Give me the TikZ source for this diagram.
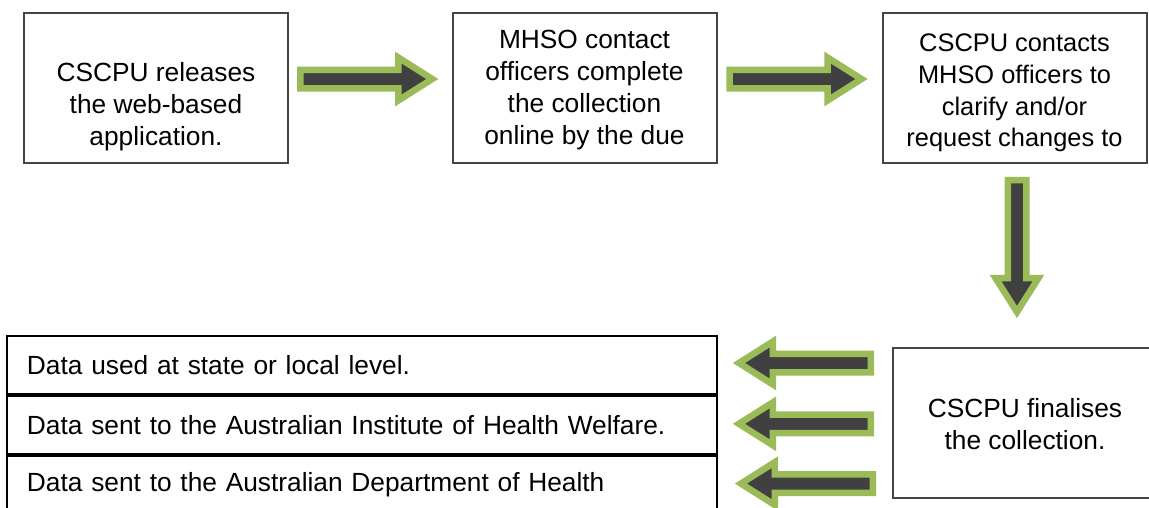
\documentclass[tikz,border=0pt]{standalone}
\usepackage{fontspec}
\setmainfont{Liberation Sans}
\usetikzlibrary{calc}
\definecolor{arrowgreen}{HTML}{9BBB59}
\definecolor{arrowdark}{HTML}{404040}
\definecolor{boxgray}{HTML}{454545}
\tikzset{
    blockarr/.pic={
        \draw[draw=arrowgreen,fill=arrowdark,line width=6.5pt]
            (-66,-9.25) -- (32,-9.25) -- (32,-21.5) -- (66,0)
            -- (32,21.5) -- (32,9.25) -- (-66,9.25) -- cycle;
    }
}
\begin{document}
\begin{tikzpicture}[x=1pt,y=-1pt,
        box/.style={draw=boxgray,line width=2pt,minimum width=264pt,
            minimum height=150pt,inner sep=0pt},
        boxtext/.style={align=center,inner sep=0pt,
            font=\fontsize{26.3}{31.7}\selectfont},
        row/.style={draw=black,line width=1.8pt,minimum height=58pt,
            text width=670pt,inner xsep=20pt,align=left,
            font=\fontsize{26.3}{31.7}\selectfont}]
    \useasboundingbox (0,0) rectangle (1149,507);

    % top row
    \node[box] (b1) at (156,88) {};
    \node[boxtext] (t1) at ([yshift=-18.5pt]b1.center) {CSCPU releases\\the web-based\\application.};
    \node[box] (b2) at (584.5,88) {};
    \node[boxtext] (t2) at ([yshift=-2pt]b2.center) {MHSO contact\\officers complete\\the collection\\online by the due};
    \node[box] (b3) at (1014.5,88) {};
    \node[boxtext,font=\fontsize{25.4}{31.7}\selectfont] (t3) at ([yshift=-5pt]b3.center)
        {CSCPU contacts\\MHSO officers to\\clarify and/or\\request changes to};

    % finalising box
    \node[box] (b4) at (1025,423) {};
    \node[boxtext] (t4) at ([yshift=-1pt]b4.center) {CSCPU finalises\\the collection.};

    % outcomes
    \node[row] (r1) at (362,365) {Data used at state or local level.};
    \node[row,anchor=north] (r2) at (r1.south) {Data sent to the Australian Institute of Health Welfare.};
    \node[row,anchor=north] (r3) at (r2.south) {Data sent to the Australian Department of Health};

    % block arrows
    \pic (a1) at ([xshift=-4pt,yshift=9pt]$(b1.east)!0.5!(b2.west)$) {blockarr};
    \pic (a2) at ([xshift=-4pt,yshift=9pt]$(b2.east)!0.5!(b3.west)$) {blockarr};
    \pic[rotate=-90] (a3) at (1017,246) {blockarr};
    \pic[rotate=180] (a4) at ([yshift=2pt]$(r1.east)!0.5!(r1.east -| b4.west)$) {blockarr};
    \pic[rotate=180] (a5) at ([yshift=1pt]$(r2.east)!0.5!(r2.east -| b4.west)$) {blockarr};
    \pic[rotate=180] (a6) at ([xshift=2pt,yshift=1pt]$(r3.east)!0.5!(r3.east -| b4.west)$) {blockarr};
\end{tikzpicture}
\end{document}
